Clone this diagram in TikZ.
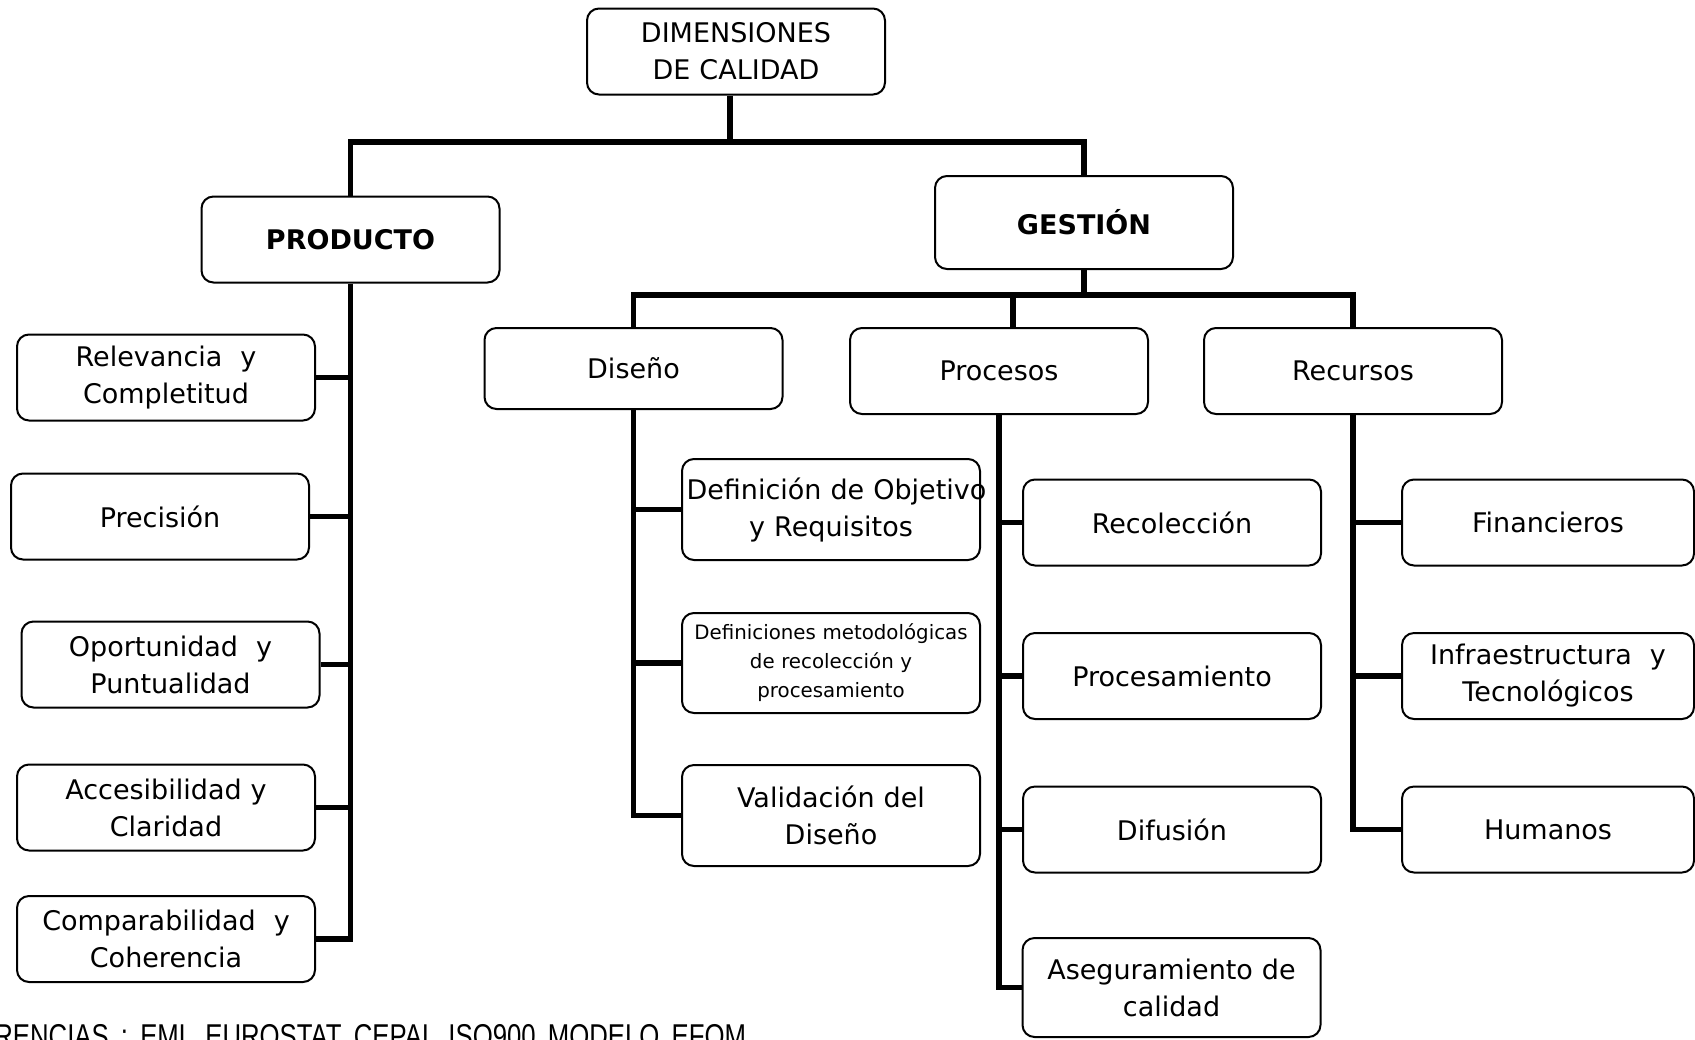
\documentclass[tikz,border=0pt]{standalone}
\usepackage{fontspec}
\setmainfont{DejaVu Sans}
\newfontfamily\calnarrow[FakeStretch=0.78,WordSpace=1.7]{Liberation Sans}
\usetikzlibrary{positioning}
\definecolor{CalLine}{HTML}{000000}
\definecolor{CalText}{HTML}{000000}
\newcommand\calfont{\fontsize{13.5pt}{18.5pt}\selectfont}
\newcommand\calsmall{\fontsize{9.9pt}{14.5pt}\selectfont}
\tikzset{
  cal box/.style={
    draw=CalLine,
    text=CalText,
    line width=1pt,
    rounded corners=6pt,
    align=center,
    text width=144.5pt,
    minimum width=149pt,
    minimum height=43pt,
    inner sep=0pt,
    font=\calfont
  },
  cal box bold/.style={
    cal box,
    font=\calfont\bfseries
  },
  cal box small/.style={
    cal box,
    font=\calsmall
  },
  cal tree/.style={draw=CalLine,line width=2.9pt},
  cal ref/.style={
    text=CalText,
    inner sep=0pt,
    font=\calnarrow\fontsize{16.5pt}{18pt}\selectfont
  }
}

\begin{document}
\begin{tikzpicture}[x=0.5pt,y=-0.5pt]
  \useasboundingbox (0,0) rectangle (1695,1039);

  \node[cal box] (top) at (736,51.5) {DIMENSIONES\\DE CALIDAD};
  \node[cal box bold] (prod) at (350.5,239.5) {PRODUCTO};
  \node[cal box bold,minimum height=46.5pt] (gest) at (1084,222.5) {GESTIÓN};

  % producto
  \node[cal box] (relev) at (166,377.5) {Relevancia~ y\\Completitud};
  \node[cal box] (precis) at (160,516.5) {Precisión};
  \node[cal box] (oport) at (170.5,664.5) {Oportunidad~ y\\Puntualidad};
  \node[cal box] (acces) at (166,807.5) {Accesibilidad y\\Claridad};
  \node[cal box] (compar) at (166,939) {Comparabilidad~ y\\Coherencia};

  % gestion
  \node[cal box,minimum height=40.5pt] (diseno) at (633.5,368.5) {Diseño};
  \node[cal box] (procesos) at (999,371) {Procesos};
  \node[cal box] (recursos) at (1353,371) {Recursos};

  \node[cal box,minimum height=50.5pt] (objet) at (831,509.5) {\mbox{Definición de Objetivo}\\y Requisitos};
  \node[cal box small,minimum height=50pt] (metod) at (831,663) {Definiciones metodológicas\\de recolección y\\procesamiento};
  \node[cal box,minimum height=50.5pt] (valid) at (831,815.5) {Validación del\\Diseño};

  \node[cal box] (recol) at (1172,522.5) {Recolección};
  \node[cal box] (procm) at (1172,676) {Procesamiento};
  \node[cal box] (difus) at (1172,829.5) {Difusión};
  \node[cal box,minimum height=49.5pt] (asegur) at (1171.5,987.5) {Aseguramiento de\\calidad};

  \node[cal box,minimum width=146pt,text width=141.5pt] (financ) at (1548,522.5) {Financieros};
  \node[cal box,minimum width=146pt,text width=141.5pt] (infra) at (1548,676) {Infraestructura~ y\\Tecnológicos};
  \node[cal box,minimum width=146pt,text width=141.5pt] (human) at (1548,829.5) {Humanos};

  \node[cal ref,anchor=north west] (refs) at (-6,1024) {RENCIAS : EML EUROSTAT CEPAL ISO900 MODELO EFQM};

  % tree lines
  \coordinate (busa) at (730,142);
  \coordinate (busb) at (1086,295);
  \draw[cal tree] (busa |- top.south) -- (busa);
  \draw[cal tree] (prod.north) |- (busa) -| (gest.north);
  \draw[cal tree] (gest.south) -- (gest.south |- busb);
  \draw[cal tree] (diseno.north) |- (busb) -| (recursos.north);
  \draw[cal tree] ([xshift=7pt]procesos.north) -- ([xshift=7pt]procesos.north |- busb);

  \draw[cal tree] (prod.south) |- (compar.east);
  \foreach \n in {relev,precis,oport,acces}
    \draw[cal tree] (\n.east) -- (\n.east -| prod.south);

  \draw[cal tree] (diseno.south) |- (valid.west);
  \foreach \n in {objet,metod}
    \draw[cal tree] (\n.west) -- (\n.west -| diseno.south);

  \draw[cal tree] (procesos.south) |- (asegur.west);
  \foreach \n in {recol,procm,difus}
    \draw[cal tree] (\n.west) -- (\n.west -| procesos.south);

  \draw[cal tree] (recursos.south) |- (human.west);
  \foreach \n in {financ,infra}
    \draw[cal tree] (\n.west) -- (\n.west -| recursos.south);
\end{tikzpicture}
\end{document}
